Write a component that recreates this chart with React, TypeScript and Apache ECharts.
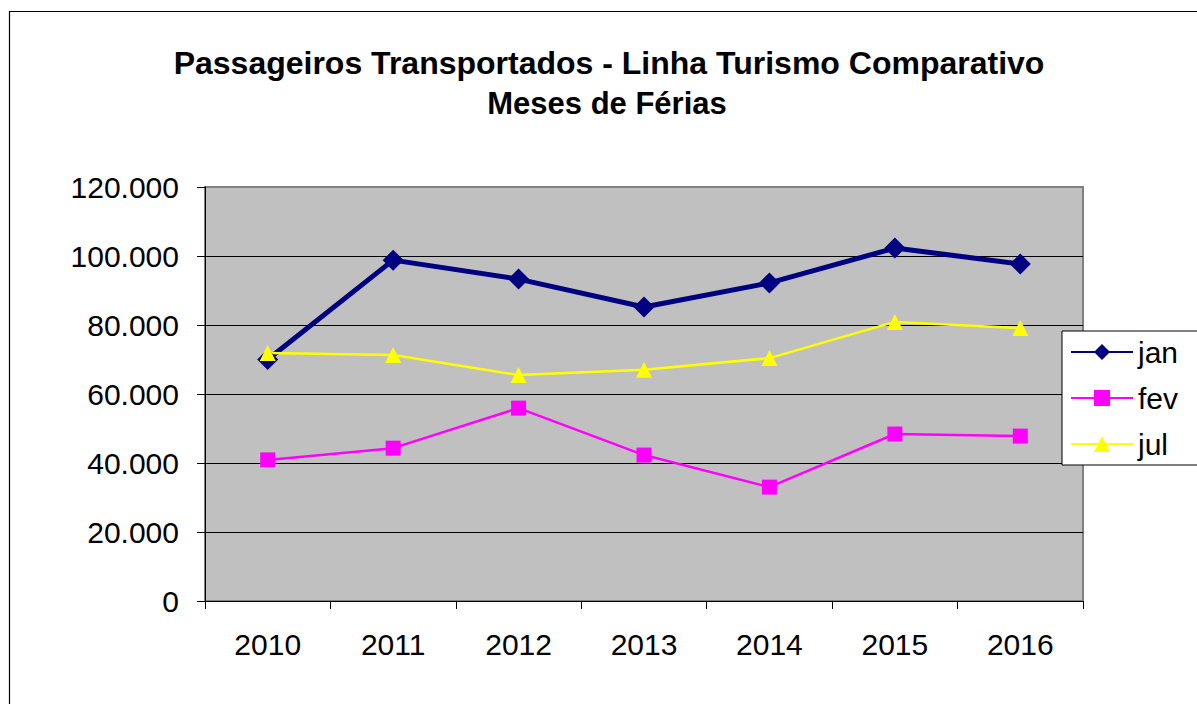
import React, { useEffect, useRef } from "react";
import * as echarts from "echarts";

const years = ["2010", "2011", "2012", "2013", "2014", "2015", "2016"];
const janValues = [70000, 98800, 93300, 85200, 92200, 102300, 97700];
const fevValues = [40900, 44300, 55900, 42300, 33000, 48400, 47800];
const julValues = [71900, 71300, 65500, 67000, 70400, 80900, 79100];
const titleLines = ["Passageiros Transportados - Linha Turismo Comparativo", "Meses de Férias"];

const FONT = "'Liberation Sans', Arial, sans-serif";

const fmt = (v: number) => String(v).replace(/\B(?=(\d{3})+(?!\d))/g, ".");

export default function App() {
  const ref = useRef<HTMLDivElement>(null);
  useEffect(() => {
    if (!ref.current) return;
    const chart = echarts.init(ref.current, null, { renderer: "svg" });
    chart.setOption({
      animation: false,
      backgroundColor: "#ffffff",
      textStyle: { fontFamily: FONT },
      graphic: [
        {
          type: "rect",
          silent: true,
          shape: { x: 9.5, y: 11.5, width: 1400, height: 900 },
          style: { fill: "none", stroke: "#000", lineWidth: 1.2 },
          z: 0,
        },
        {
          type: "text",
          x: 609,
          y: 62.5,
          style: {
            text: titleLines[0],
            font: `bold 32px ${FONT}`,
            fill: "#000",
            textAlign: "center",
            textVerticalAlign: "middle",
          },
        },
        {
          type: "text",
          x: 607,
          y: 103.5,
          style: {
            text: titleLines[1],
            font: `bold 31px ${FONT}`,
            fill: "#000",
            textAlign: "center",
            textVerticalAlign: "middle",
          },
        },
      ],
      grid: {
        left: 205,
        top: 187,
        right: 114,
        bottom: 103,
        show: true,
        backgroundColor: "#c0c0c0",
        borderColor: "#808080",
        borderWidth: 2,
      },
      legend: {
        data: ["jan", "fev", "jul"],
        orient: "vertical",
        left: 1062,
        top: 331,
        padding: [6, 20, 6, 8],
        itemGap: 16,
        itemWidth: 62,
        itemHeight: 20,
        backgroundColor: "#ffffff",
        borderColor: "#000",
        borderWidth: 1,
        borderRadius: 0,
        textStyle: { fontSize: 30, color: "#000", fontFamily: FONT, padding: [0, 0, 0, 0] },
      },
      xAxis: {
        type: "category",
        data: years,
        boundaryGap: true,
        axisLine: { show: true, lineStyle: { color: "#000", width: 1 } },
        axisTick: { show: true, inside: false, length: 8, lineStyle: { color: "#000" } },
        axisLabel: { fontSize: 30, color: "#000", margin: 28, fontFamily: FONT },
        splitLine: { show: false },
      },
      yAxis: {
        type: "value",
        min: 0,
        max: 120000,
        interval: 20000,
        axisLine: { show: true, lineStyle: { color: "#000", width: 1 } },
        axisTick: { show: true, inside: false, length: 8, lineStyle: { color: "#000" } },
        axisLabel: { fontSize: 30, color: "#000", margin: 26, fontFamily: FONT, formatter: (v: number) => fmt(v) },
        splitLine: {
          show: true,
          lineStyle: { color: ["#000", "#000", "#000", "#000", "#000", "#000", "#808080"], width: 1 },
        },
      },
      series: [
        {
          name: "jan",
          type: "line",
          data: janValues,
          symbol: "diamond",
          symbolSize: 21,
          lineStyle: { color: "#000080", width: 5 },
          itemStyle: { color: "#000080" },
        },
        {
          name: "fev",
          type: "line",
          data: fevValues,
          symbol: "rect",
          symbolSize: 15,
          lineStyle: { color: "#ff00ff", width: 2.5 },
          itemStyle: { color: "#ff00ff" },
        },
        {
          name: "jul",
          type: "line",
          data: julValues,
          symbol: "triangle",
          symbolSize: 16,
          lineStyle: { color: "#ffff00", width: 2.5 },
          itemStyle: { color: "#ffff00" },
        },
      ],
    });
    return () => chart.dispose();
  }, []);
  return <div ref={ref} style={{ position: "absolute", left: 0, top: 0, width: 1197, height: 704 }} />;
}
